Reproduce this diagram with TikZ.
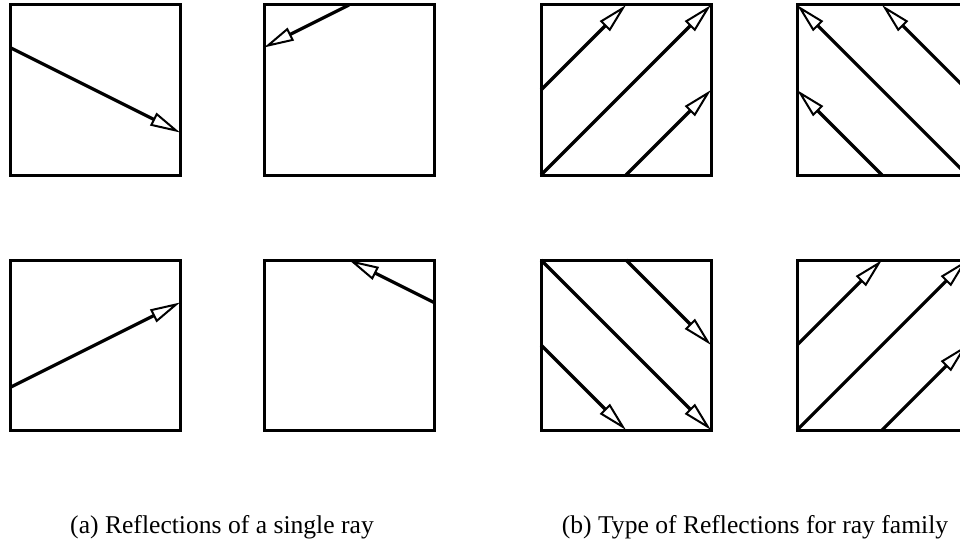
\documentclass[tikz,border=0pt]{standalone}
\usepackage{fontspec}
\setmainfont{Liberation Serif}
\usetikzlibrary{positioning, calc, arrows.meta}

\begin{document}
\begin{tikzpicture}[
    x=1pt, y=-1pt,
    cell/.style={draw, rectangle, minimum size=170pt, inner sep=0pt, outer sep=0pt, line width=3pt},
    ray/.style={line width=3.2pt, -{Triangle[open, length=30pt, width=14pt, line width=2pt]}},
    caption/.style={font=\fontsize{25.6}{30}\selectfont, inner sep=0pt, anchor=base}
]
\useasboundingbox (0,0) rectangle (960,543);

% Boxes
\node[cell] (a_top_left) at (95,90) {};
\node[cell] (a_top_right) [right=84pt of a_top_left] {};
\node[cell] (b_top_left) [right=107pt of a_top_right] {};
\node[cell] (b_top_right) [right=86pt of b_top_left] {};
\node[cell] (a_bot_left) [below=85pt of a_top_left] {};
\node[cell] (a_bot_right) [below=85pt of a_top_right] {};
\node[cell] (b_bot_left) [below=85pt of b_top_left] {};
\node[cell] (b_bot_right) [below=85pt of b_top_right] {};

% Single ray
\draw[ray] ($(a_top_left.north west)!0.25!(a_top_left.south west)$) -- ($(a_top_left.north east)!0.75!(a_top_left.south east)$);
\draw[ray] (a_top_right.north) -- ($(a_top_right.north west)!0.25!(a_top_right.south west)$);
\draw[ray] ($(a_bot_left.north west)!0.75!(a_bot_left.south west)$) -- ($(a_bot_left.north east)!0.25!(a_bot_left.south east)$);
\draw[ray] ($(a_bot_right.north east)!0.25!(a_bot_right.south east)$) -- (a_bot_right.north);

% Ray family
\draw[ray] (b_top_left.west) -- (b_top_left.north);
\draw[ray] (b_top_left.south west) -- (b_top_left.north east);
\draw[ray] (b_top_left.south) -- (b_top_left.east);

\draw[ray] (b_top_right.south) -- (b_top_right.west);
\draw[ray] (b_top_right.south east) -- (b_top_right.north west);
\draw[ray] (b_top_right.east) -- (b_top_right.north);

\draw[ray] (b_bot_left.north) -- (b_bot_left.east);
\draw[ray] (b_bot_left.north west) -- (b_bot_left.south east);
\draw[ray] (b_bot_left.west) -- (b_bot_left.south);

\draw[ray] (b_bot_right.west) -- (b_bot_right.north);
\draw[ray] (b_bot_right.south west) -- (b_bot_right.north east);
\draw[ray] (b_bot_right.south) -- (b_bot_right.east);

% Captions
\node[caption] (cap_a) at (222,533) {(a) Reflections of a single ray};
\node[caption] (cap_b) at (755,533) {(b) Type of Reflections for ray family};

\end{tikzpicture}
\end{document}
